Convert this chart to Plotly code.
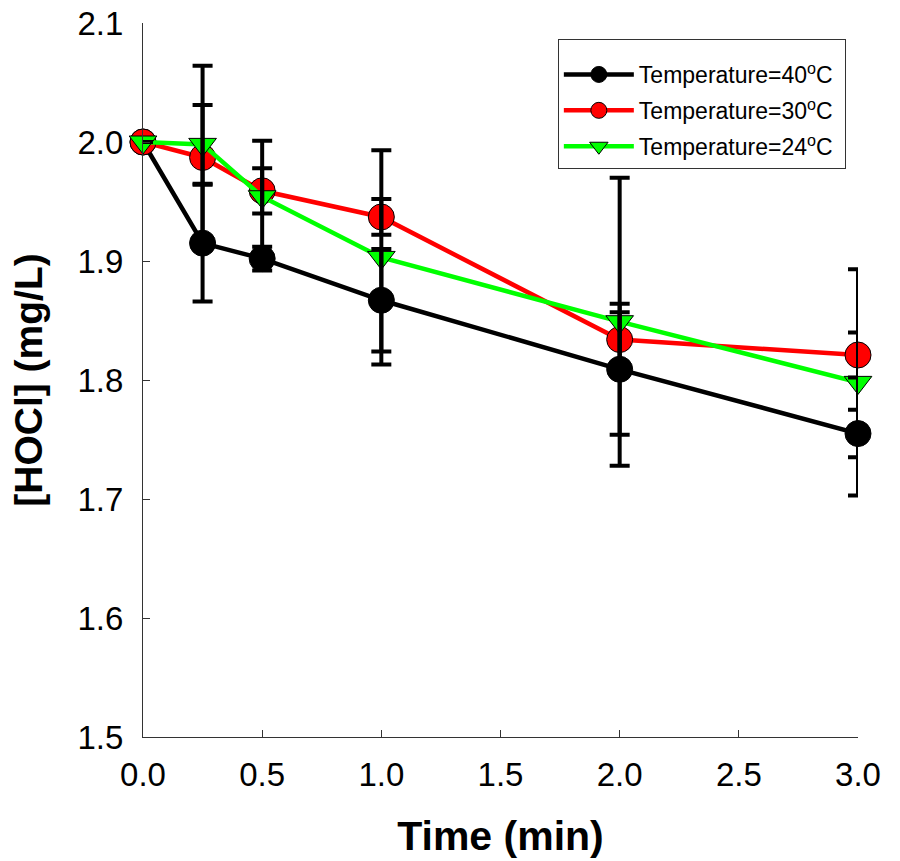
import plotly.graph_objects as go

time_min = [0.0, 0.25, 0.5, 1.0, 2.0, 3.0]

hocl_40 = [2.000, 1.915, 1.902, 1.867, 1.809, 1.755]
err_40 = [0.0, 0.049, 0.010, 0.043, 0.055, 0.020]

hocl_30 = [2.000, 1.987, 1.959, 1.937, 1.834, 1.821]
err_30 = [0.0, 0.077, 0.019, 0.015, 0.023, 0.019]

hocl_24 = [2.000, 1.998, 1.954, 1.903, 1.849, 1.798]
err_24 = [0.0, 0.033, 0.047, 0.090, 0.121, 0.095]

series_names = ["Temperature=40<sup>o</sup>C&nbsp;",
                "Temperature=30<sup>o</sup>C&nbsp;",
                "Temperature=24<sup>o</sup>C&nbsp;"]
x_ticks = [0.0, 0.5, 1.0, 1.5, 2.0, 2.5, 3.0]
y_ticks = [1.5, 1.6, 1.7, 1.8, 1.9, 2.0, 2.1]

FONT = "Liberation Sans, Arial, sans-serif"

fig = go.Figure()

styles = [
    (hocl_40, err_40, series_names[0], "black", "circle", 26, "g40"),
    (hocl_30, err_30, series_names[1], "#ff0000", "circle", 26, "g30"),
    (hocl_24, err_24, series_names[2], "#00ff00", "triangle-down", 24, "g24"),
]

for vals, errs, name, col, sym, msize, grp in styles:
    fig.add_trace(go.Scatter(
        x=time_min, y=vals, name=name, mode="lines+markers",
        legendgroup=grp,
        line=dict(color=col, width=4.5),
        marker=dict(symbol=sym, size=msize, color=col,
                    line=dict(color="black", width=1)),
        cliponaxis=False,
    ))

for vals, errs, name, col, sym, msize, grp in styles:
    fig.add_trace(go.Scatter(
        x=time_min, y=vals, mode="markers", showlegend=False,
        legendgroup=grp,
        marker=dict(size=1, color="rgba(0,0,0,0)"),
        error_y=dict(type="data", array=errs, visible=True,
                     color="black", thickness=4, width=10),
        cliponaxis=False, hoverinfo="skip",
    ))

axis_common = dict(
    showgrid=False, zeroline=False, showline=True, linecolor="#333333",
    linewidth=1, ticks="inside", ticklen=7, tickwidth=1, tickcolor="#333333",
    tickfont=dict(family=FONT, size=33, color="black"),
    tickformat=".1f", mirror=False, automargin=False,
)

fig.update_layout(
    width=900, height=861,
    margin=dict(l=143, r=42, t=23, b=124),
    paper_bgcolor="white", plot_bgcolor="white",
    font=dict(family=FONT, color="black"),
    xaxis=dict(range=[0, 3], tickvals=x_ticks, ticklabelstandoff=8,
               title=dict(text="<b>Time (min)</b>",
                          font=dict(family=FONT, size=41), standoff=29),
               **axis_common),
    yaxis=dict(range=[1.5, 2.1], tickvals=y_ticks, ticklabelstandoff=12,
               title=dict(text="<b>[HOCl] (mg/L)</b>",
                          font=dict(family=FONT, size=39), standoff=22),
               **axis_common),
    legend=dict(x=0.983, y=0.9776, xanchor="right", yanchor="top",
                bgcolor="white", bordercolor="#333333", borderwidth=1,
                font=dict(family=FONT, size=23, color="black"),
                title=dict(text=" ", font=dict(family=FONT, size=10)),
                itemwidth=70, tracegroupgap=3, traceorder="grouped"),
    showlegend=True,
)

fig.write_html("out.html")
